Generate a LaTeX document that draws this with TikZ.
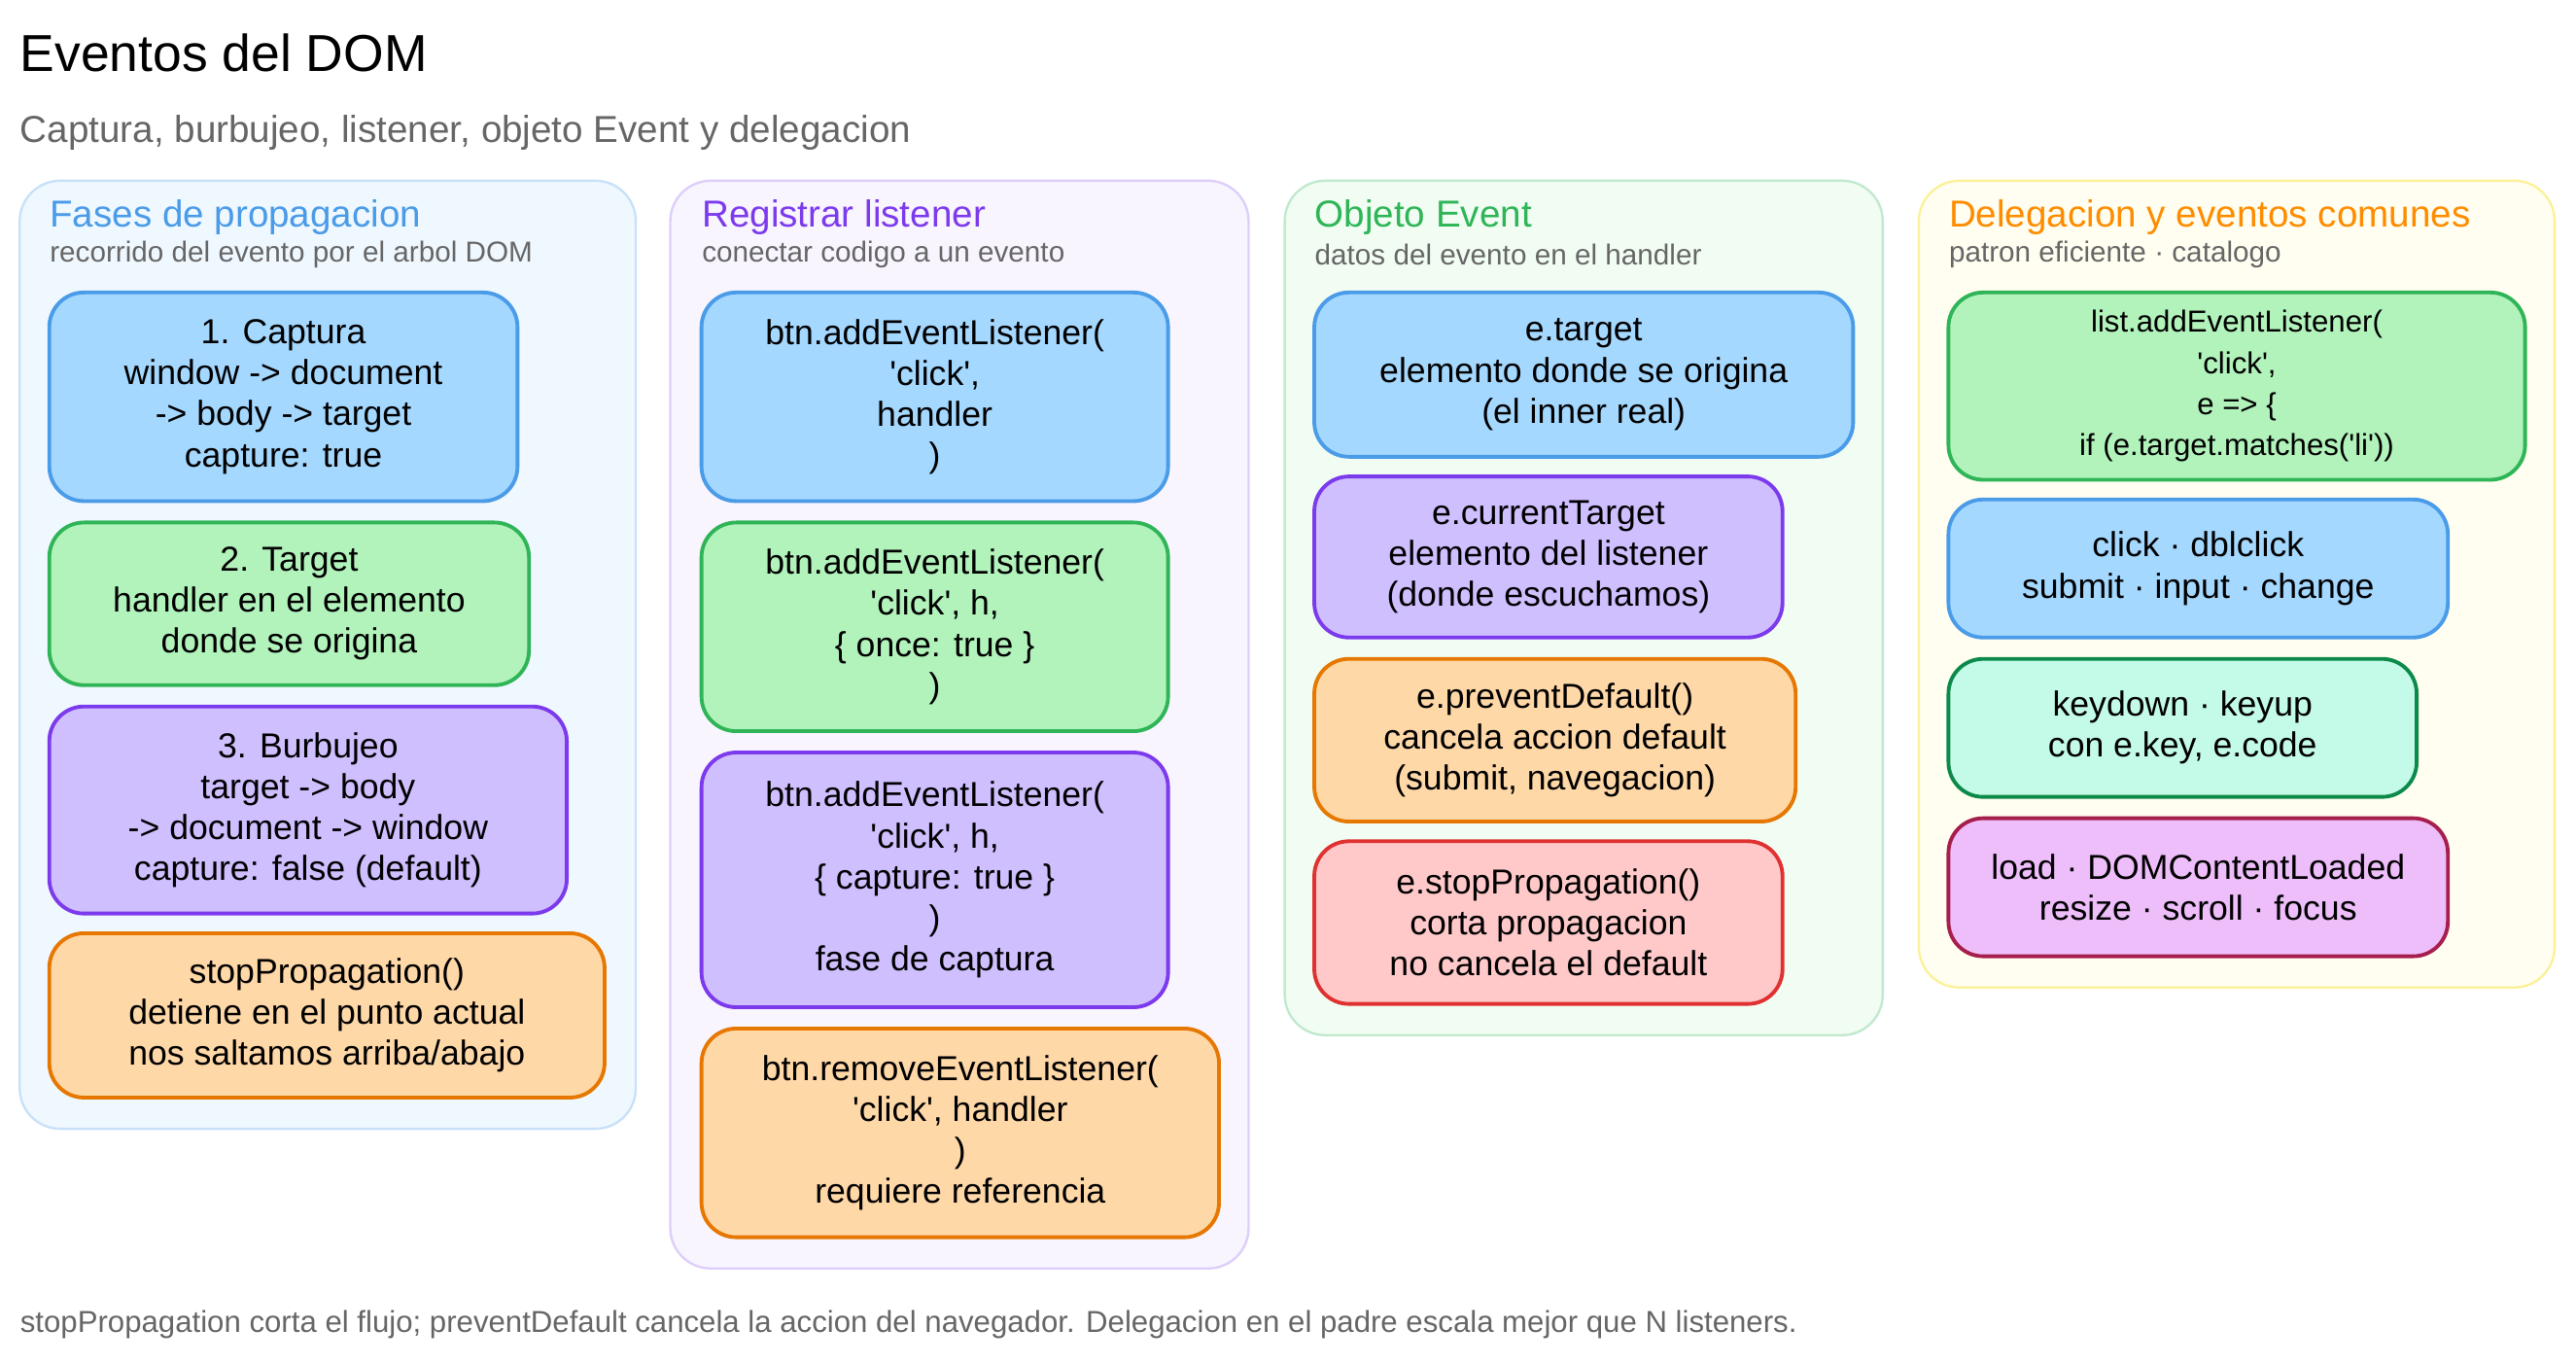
\documentclass[tikz,border=0pt]{standalone}
\usepackage{fontspec}
\setmainfont{Liberation Sans}[Ligatures=TeXOff]
\newcommand\qq{'}
\begin{document}
\begin{tikzpicture}[x=0.02cm,y=-0.02cm,
  panel/.style={draw=#1, line width=0.8pt, rounded corners=14pt},
  box/.style={line width=1.3pt, rounded corners=12pt, align=center, inner sep=0pt, font=\fontsize{12}{14.2}\selectfont},
  ptitle/.style={anchor=west, font=\fontsize{13}{15}\selectfont, inner sep=0pt},
  psub/.style={anchor=west, font=\fontsize{10}{12}\selectfont, text=black!60, inner sep=0pt}]
\definecolor{bF}{HTML}{A5D8FF}\definecolor{bS}{HTML}{4A9BE8}
\definecolor{gF}{HTML}{B2F2BB}\definecolor{gS}{HTML}{2FB557}
\definecolor{pF}{HTML}{D0BFFF}\definecolor{pS}{HTML}{7C3AED}
\definecolor{oF}{HTML}{FFD8A8}\definecolor{oS}{HTML}{E67700}
\definecolor{rF}{HTML}{FFC9C9}\definecolor{rS}{HTML}{E03131}
\definecolor{tF}{HTML}{C3FAE8}\definecolor{tS}{HTML}{0C8A4A}
\definecolor{mF}{HTML}{EEBEFA}\definecolor{mS}{HTML}{A61E4D}
\useasboundingbox (0,0) rectangle (1568,830);
\newcommand\bx[7]{\node[box, fill=#6F, draw=#6S, minimum width={(#4-#2)*0.02cm}, minimum height={(#5-#3)*0.02cm}] (#1) at ({(#2+#4)/2},{(#3+#5)/2}) {#7};}
\node[anchor=west, font=\fontsize{18}{22}\selectfont, inner sep=0pt] (title) at (12,32) {Eventos del DOM};
\node[anchor=west, font=\fontsize{13}{15}\selectfont, text=black!60, inner sep=0pt] (sub) at (12,81) {Captura, burbujeo, listener, objeto Event y delegacion};
% panels
\node[panel=bS!30, fill=bF!18, minimum width=375*0.02cm, minimum height=577*0.02cm, inner sep=0] (p1) at (199.5,398.5) {};
\node[panel=pS!25, fill=pF!15, minimum width=352*0.02cm, minimum height=662*0.02cm, inner sep=0] (p2) at (584,441) {};
\node[panel=gS!30, fill=gF!18, minimum width=364*0.02cm, minimum height=520*0.02cm, inner sep=0] (p3) at (964,370) {};
\node[panel=oS!25!yellow!40, fill=yellow!6, minimum width=387*0.02cm, minimum height=491*0.02cm, inner sep=0] (p4) at (1361.5,355.5) {};
\node[ptitle, text=bS] (t1) at (30,132) {Fases de propagacion};
\node[psub] (s1) at (30,155) {recorrido del evento por el arbol DOM};
\node[ptitle, text=pS] (t2) at (427,132) {Registrar listener};
\node[psub] (s2) at (427,155) {conectar codigo a un evento};
\node[ptitle, text=gS] (t3) at (800,132) {Objeto Event};
\node[psub] (s3) at (800,155) {datos del evento en el handler};
\node[ptitle, text=orange!90!yellow] (t4) at (1186,132) {Delegacion y eventos comunes};
\node[psub] (s4) at (1186,155) {patron eficiente · catalogo};
% panel 1
\bx{a1}{30}{178}{315}{305}{b}{1. Captura\\window -> document\\-> body -> target\\capture: true}
\bx{a2}{30}{318}{322}{417}{g}{2. Target\\handler en el elemento\\donde se origina}
\bx{a3}{30}{430}{345}{556}{p}{3. Burbujeo\\target -> body\\-> document -> window\\capture: false (default)}
\bx{a4}{30}{568}{368}{668}{o}{stopPropagation()\\detiene en el punto actual\\nos saltamos arriba/abajo}
% panel 2
\bx{b1}{427}{178}{711}{305}{b}{btn.addEventListener(\\\qq click\qq,\\handler\\)}
\bx{b2}{427}{318}{711}{445}{g}{btn.addEventListener(\\\qq click\qq, h,\\\{ once: true \}\\)}
\bx{b3}{427}{458}{711}{613}{p}{btn.addEventListener(\\\qq click\qq, h,\\\{ capture: true \}\\)\\fase de captura}
\bx{b4}{427}{626}{742}{753}{o}{btn.removeEventListener(\\\qq click\qq, handler\\)\\requiere referencia}
% panel 3
\bx{c1}{800}{178}{1128}{278}{b}{e.target\\elemento donde se origina\\(el inner real)}
\bx{c2}{800}{290}{1085}{388}{p}{e.currentTarget\\elemento del listener\\(donde escuchamos)}
\bx{c3}{800}{401}{1093}{500}{o}{e.preventDefault()\\cancela accion default\\(submit, navegacion)}
\bx{c4}{800}{512}{1085}{611}{r}{e.stopPropagation()\\corta propagacion\\no cancela el default}
% panel 4
\bx{d1}{1186}{178}{1537}{292}{g}{\fontsize{10.5}{12.5}\selectfont list.addEventListener(\\\fontsize{10.5}{12.5}\selectfont \qq click\qq,\\\fontsize{10.5}{12.5}\selectfont e => \{\\\fontsize{10.5}{12.5}\selectfont if (e.target.matches(\qq li\qq))}
\bx{d2}{1186}{304}{1490}{388}{b}{click · dblclick\\submit · input · change}
\bx{d3}{1186}{401}{1471}{485}{t}{keydown · keyup\\con e.key, e.code}
\bx{d4}{1186}{498}{1490}{582}{m}{load · DOMContentLoaded\\resize · scroll · focus}
\node[anchor=west, font=\fontsize{10.5}{13}\selectfont, text=black!60, inner sep=0pt] (foot) at (12,806) {stopPropagation corta el flujo; preventDefault cancela la accion del navegador. Delegacion en el padre escala mejor que N listeners.};
\end{tikzpicture}
\end{document}
